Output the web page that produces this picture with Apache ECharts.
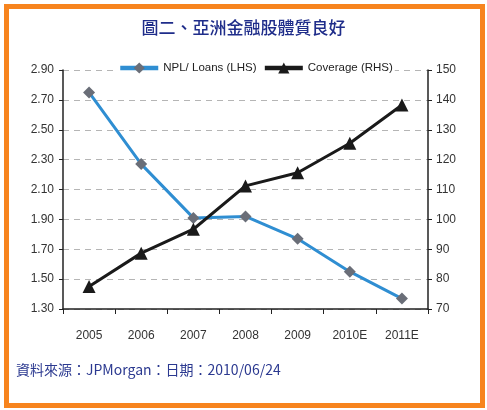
<!DOCTYPE html>
<html><head><meta charset="utf-8">
<script src="https://cdn.jsdelivr.net/npm/echarts@6/dist/echarts.min.js"></script>
<style>html,body{margin:0;padding:0;background:#fff;}#c{width:487px;height:410px;}</style>
</head><body><div id="c"></div>
<script>
const categories = ['2005','2006','2007','2008','2009','2010E','2011E'];
const nplLoans = [2.75, 2.27, 1.91, 1.92, 1.77, 1.55, 1.37];
const coverage = [77.5, 88.7, 96.7, 111.2, 115.6, 125.5, 138.3];
const leftTicks = {min: 1.3, max: 2.9, interval: 0.2};
const rightTicks = {min: 70, max: 150, interval: 10};
const titleText = '圖二、亞洲金融股體質良好';
const sourceText = '資料來源：JPMorgan：日期：2010/06/24';

const axisFont = '"Liberation Sans Narrow", "Liberation Sans", Arial, sans-serif';
const chart = echarts.init(document.getElementById('c'));
chart.setOption({
  animation: false,
  backgroundColor: '#fff',
  graphic: [
    {type: 'rect', shape: {x: 6.5, y: 6.5, width: 476, height: 399}, style: {fill: 'none', stroke: '#f7841e', lineWidth: 5}, z: 100},
    {type: 'text', left: 16, top: 363, style: {text: sourceText, fill: '#2b3990', font: '14px "Noto Sans CJK TC", sans-serif'}}
  ],
  title: {
    text: titleText, left: 'center', top: 14,
    textStyle: {fontFamily: '"Noto Sans CJK TC", sans-serif', fontSize: 17, fontWeight: 500, color: '#1f2d8a'}
  },
  legend: {
    left: 116, top: 62, itemWidth: 38, itemHeight: 14, itemGap: 6,
    backgroundColor: '#fff', padding: [0, 2],
    lineStyle: {width: 4.5},
    textStyle: {fontFamily: axisFont, fontSize: 11.5, color: '#222'},
    data: ['NPL/ Loans (LHS)', 'Coverage (RHS)']
  },
  grid: {left: 63, right: 59, top: 70, bottom: 101},
  xAxis: {
    type: 'category', data: categories, boundaryGap: true,
    axisLine: {lineStyle: {color: '#222', width: 1.5}},
    axisTick: {show: true, length: 5, lineStyle: {color: '#222'}},
    axisLabel: {fontFamily: axisFont, fontSize: 12, color: '#333', margin: 21}
  },
  yAxis: [
    {
      type: 'value', min: leftTicks.min, max: leftTicks.max, interval: leftTicks.interval,
      axisLine: {show: true, lineStyle: {color: '#222', width: 1.5}},
      axisTick: {show: true, length: 4, lineStyle: {color: '#222'}},
      axisLabel: {fontFamily: axisFont, fontSize: 12, color: '#333', margin: 9, formatter: v => v.toFixed(2)},
      splitLine: {show: true, lineStyle: {color: '#b5b5b5', type: [6, 5], width: 1}}
    },
    {
      type: 'value', min: rightTicks.min, max: rightTicks.max, interval: rightTicks.interval,
      position: 'right',
      axisLine: {show: true, lineStyle: {color: '#222', width: 1.5}},
      axisTick: {show: true, length: 4, lineStyle: {color: '#222'}},
      axisLabel: {fontFamily: axisFont, fontSize: 12, color: '#333', margin: 8},
      splitLine: {show: false}
    }
  ],
  series: [
    {
      name: 'NPL/ Loans (LHS)', type: 'line', data: nplLoans, yAxisIndex: 0,
      lineStyle: {color: '#2f8ed2', width: 3},
      itemStyle: {color: '#6a6e78'},
      symbol: 'diamond', symbolSize: 12, z: 3
    },
    {
      name: 'Coverage (RHS)', type: 'line', data: coverage, yAxisIndex: 1,
      lineStyle: {color: '#1a1a1a', width: 3},
      itemStyle: {color: '#1a1a1a'},
      symbol: 'triangle', symbolSize: 13, z: 4
    }
  ]
});
</script></body></html>
